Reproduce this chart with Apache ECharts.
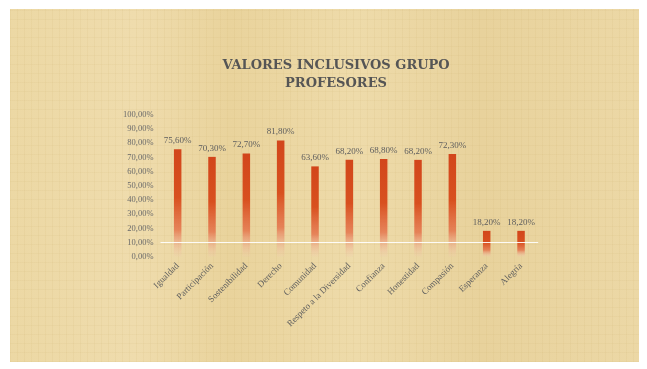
<!DOCTYPE html>
<html><head><meta charset="utf-8">
<script src="https://cdn.jsdelivr.net/npm/echarts@6/dist/echarts.min.js"></script>
<style>
html,body{margin:0;padding:0;background:#fff;width:647px;height:369px;overflow:hidden;}
#bg{position:absolute;left:10px;top:9px;width:629px;height:353px;
background:
 repeating-linear-gradient(90deg, rgba(200,170,100,0.10) 0px, rgba(200,170,100,0.10) 1px, rgba(255,255,255,0) 1px, rgba(255,255,255,0) 7px),
 repeating-linear-gradient(0deg, rgba(190,160,90,0.08) 0px, rgba(190,160,90,0.08) 1px, rgba(255,255,255,0) 1px, rgba(255,255,255,0) 9px),
 linear-gradient(90deg,#ecd8a4 0%,#efdcad 20%,#e9d39c 35%,#eedbaa 55%,#e8d29c 75%,#ecd8a6 100%);}
#chart{position:absolute;left:0;top:0;width:647px;height:369px;}
</style></head>
<body>
<div id="bg"></div>
<div id="chart"></div>
<script>
var categories = ["Igualdad","Participación","Sostenibilidad","Derecho","Comunidad","Respeto a la Diversidad","Confianza","Honestidad","Compasión","Esperanza","Alegría"];
var values = [75.6, 70.3, 72.7, 81.8, 63.6, 68.2, 68.8, 68.2, 72.3, 18.2, 18.2];
var titleText = "VALORES INCLUSIVOS GRUPO\nPROFESORES";

function pct(v){ return v.toFixed(2).replace('.', ',') + '%'; }

var chart = echarts.init(document.getElementById('chart'), null, {renderer:'canvas'});
chart.setOption({
  backgroundColor: 'transparent',
  animation: false,
  title: {
    text: titleText,
    left: 331, top: 52, textAlign: 'center',
    textStyle: {fontFamily: 'DejaVu Serif', fontWeight: 'bold', fontSize: 13, lineHeight: 18, color: '#555555'}
  },
  grid: {left: 160.5, right: 108.8, top: 114.7, bottom: 112.3, containLabel: false},
  xAxis: {
    type: 'category', data: categories,
    axisLine: {show: false}, axisTick: {show: false},
    axisLabel: {rotate: 45, interval: 0, margin: 8, fontFamily: 'Liberation Serif', fontSize: 9, color: '#5e5e5e'}
  },
  yAxis: {
    type: 'value', min: 0, max: 100, interval: 10,
    axisLine: {show: false}, axisTick: {show: false}, splitLine: {show: false},
    axisLabel: {formatter: function(v){ return pct(v); }, margin: 7, fontFamily: 'Liberation Serif', fontSize: 8.5, color: '#6a6a6a'}
  },
  series: [{
    type: 'bar', data: values, barWidth: 7.5,
    itemStyle: {color: new echarts.graphic.LinearGradient(0,0,0,1,[
      {offset: 0, color: '#d2461b'},
      {offset: 0.45, color: '#d8501f'},
      {offset: 0.75, color: 'rgba(228,110,70,0.8)'},
      {offset: 1, color: 'rgba(245,195,180,0.1)'}
    ])},
    label: {show: true, position: 'top', distance: 4, formatter: function(p){ return pct(p.value); },
      fontFamily: 'Liberation Serif', fontSize: 9, color: '#5e5e5e'},
    markLine: {silent: true, symbol: 'none', label: {show: false},
      lineStyle: {color: '#ffffff', type: 'solid', width: 1, opacity: 0.9},
      data: [{yAxis: 10}]}
  }]
});
</script>
</body></html>
